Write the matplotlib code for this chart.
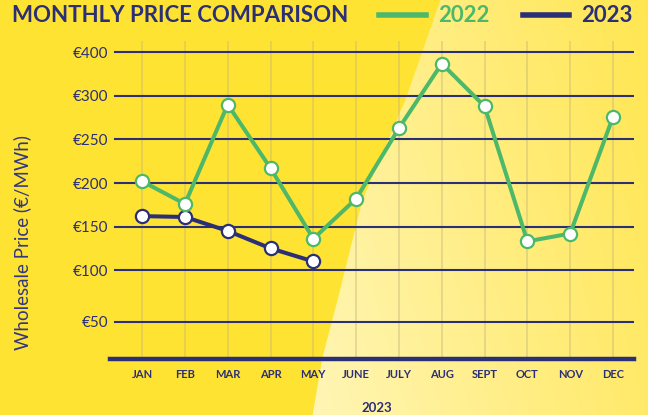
import numpy as np
import matplotlib
matplotlib.use("Agg")
import matplotlib.pyplot as plt
from matplotlib.lines import Line2D

# ---------------------------------- data ----------------------------------
months = ["JAN", "FEB", "MAR", "APR", "MAY", "JUNE", "JULY", "AUG", "SEPT", "OCT", "NOV", "DEC"]
price_2022 = [202, 176, 290, 217, 136, 182, 263, 337, 288, 133, 142, 276]
price_2023 = [162, 161, 145, 125, 110]
series_names = ["2022", "2023"]
# gridline levels as drawn in the original (labels do not follow a linear scale)
grid_levels = [41, 100, 150, 200, 250, 300, 350]
grid_labels = ["€50", "€100", "€150", "€200", "€250", "€300", "€400"]

# --------------------------------- styling --------------------------------
NAVY = "#2B2F75"
GREEN = "#4DB86A"
YELLOW = "#FFE333"
plt.rcParams["font.family"] = ["Lato", "DejaVu Sans"]

W, H = 648, 415
fig = plt.figure(figsize=(W / 100, H / 100), dpi=100)
fig.patch.set_facecolor(YELLOW)

# background: pale wedge on the right with a soft gradient
bg = fig.add_axes([0, 0, 1, 1], zorder=0)
bg.axis("off")
yy, xx = np.mgrid[0:H, 0:W].astype(float)
edge = np.interp(yy, [0, 100, 200, 300, 357, 415], [440, 405, 362, 337, 322, 312])
mask = np.clip(xx - edge + 0.5, 0, 1)
t = np.clip(0.75 * (xx - 300) / 350 + 0.25 * (430 - yy) / 430, 0, 1)
light = np.array([255, 246, 185]) / 255
dark = np.array([255, 230, 80]) / 255
img = np.zeros((H, W, 4))
img[..., :3] = light + (dark - light) * t[..., None]
img[..., 3] = mask
bg.imshow(img, extent=[0, 1, 0, 1], aspect="auto", interpolation="bilinear")
bg.set_xlim(0, 1)
bg.set_ylim(0, 1)

# main axes
ax = fig.add_axes([110 / W, 56 / H, 524 / W, 318 / H], zorder=1)
ax.patch.set_alpha(0)
x = np.arange(len(months))
ax.set_xlim(-0.75, 11.49)
ax.set_ylim(-2, 363)

for xi in x:
    ax.axvline(xi, color="#BFB27A", alpha=0.45, lw=1.2, zorder=1)
for lv in grid_levels:
    ax.axhline(lv, xmin=5 / 524, xmax=1, color=NAVY, lw=1.5, zorder=2)
ax.axhline(-2, color=NAVY, lw=3.2, zorder=2, clip_on=False)

ax.plot(np.arange(len(price_2023)), price_2023, color=NAVY, lw=2.9, marker="o",
        ms=9.5, mfc="white", mec=NAVY, mew=1.6, zorder=4, clip_on=False)
ax.plot(x, price_2022, color=GREEN, lw=2.9, marker="o",
        ms=9.5, mfc="white", mec=GREEN, mew=1.6, zorder=5, clip_on=False)

for s in ax.spines.values():
    s.set_visible(False)
ax.set_yticks(grid_levels)
ax.set_yticklabels(grid_labels, fontsize=11, color=NAVY)
ax.set_xticks(x)
ax.set_xticklabels(months, fontsize=8, fontweight="bold", color=NAVY)
ax.tick_params(axis="both", length=0)
ax.tick_params(axis="y", pad=1)
ax.tick_params(axis="x", pad=7)
ax.set_ylabel("Wholesale Price (€/MWh)", fontsize=13.5, color="#33377D")
ax.yaxis.set_label_coords(-0.151, 0.365)

fig.text(377 / W, 1 - 408 / H, "2023", ha="center", va="center",
         fontsize=9.5, fontweight="bold", color=NAVY)
fig.text(12 / W, 1 - 16 / H, "MONTHLY PRICE COMPARISON", ha="left", va="center",
         fontsize=16, fontweight="bold", color=NAVY)

handles = [Line2D([], [], color=GREEN, lw=4), Line2D([], [], color=NAVY, lw=4)]
leg = fig.legend(handles, series_names, loc="center right", bbox_to_anchor=(633 / W, 1 - 16 / H),
                 ncol=2, frameon=False, handlelength=2.1, handletextpad=0.55, columnspacing=1.5,
                 borderaxespad=0, borderpad=0,
                 labelcolor=[GREEN, NAVY], prop={"size": 16, "weight": "bold"})

fig.savefig("out.png", dpi=100, facecolor=fig.get_facecolor())
